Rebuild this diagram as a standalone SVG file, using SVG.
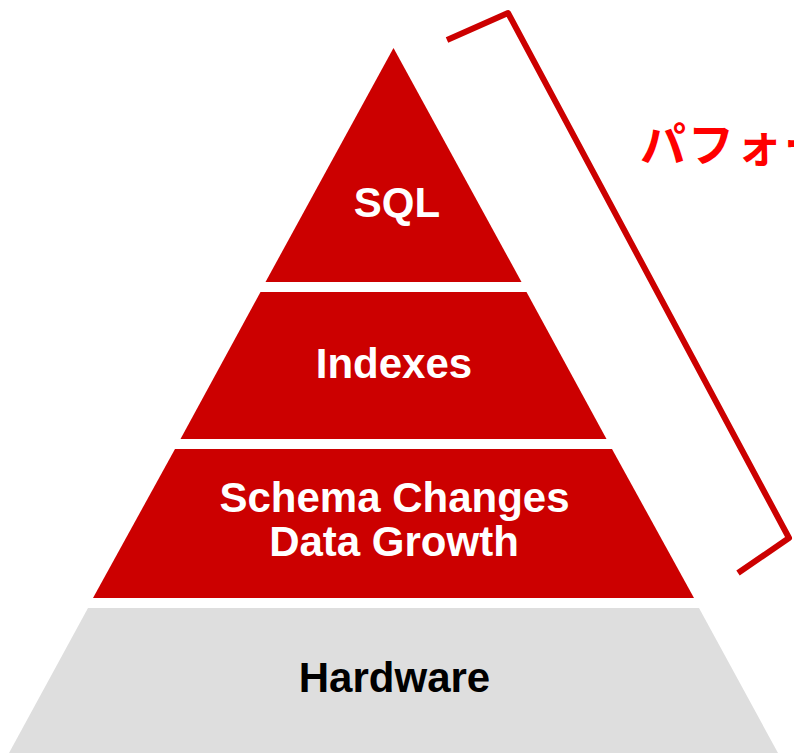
<svg xmlns="http://www.w3.org/2000/svg" width="794" height="753" viewBox="0 0 794 753">
<style>
.red{fill:#cc0000}
.grey{fill:#dedede}
.lbl{font-family:"Liberation Sans",Arial,sans-serif;font-weight:bold;font-size:42px;text-anchor:middle}
.w{fill:#ffffff}
.k{fill:#000000}
.jp{font-family:"Noto Sans CJK JP","Noto Sans",sans-serif;font-weight:bold;font-size:46px;fill:#ff0000;letter-spacing:2px}
</style>
<rect width="794" height="753" fill="#ffffff"/>
<g id="sql">
<polygon class="red" points="393.5,48 521.5,282 265.5,282"/>
<text class="lbl w" x="397" y="217">SQL</text>
</g>
<g id="indexes">
<polygon class="red" points="260.5,292 526.5,292 606.5,439 180.5,439"/>
<text class="lbl w" x="394" y="378">Indexes</text>
</g>
<g id="schema">
<polygon class="red" points="175,449 612,449 694,598 93,598"/>
<text class="lbl w" x="394.5" y="512">Schema Changes</text>
<text class="lbl w" x="394" y="556">Data Growth</text>
</g>
<g id="hardware">
<polygon class="grey" points="88,608 699,608 778,753 9,753"/>
<text class="lbl k" x="394.5" y="692">Hardware</text>
</g>
<g id="connectors">
<polyline points="447,40 508,13 789,538 738,573" fill="none" stroke="#cc0000" stroke-width="6" stroke-linejoin="round"/>
</g>
<g id="label">
<text class="jp" x="640" y="161">パフォー</text>
</g>
</svg>
